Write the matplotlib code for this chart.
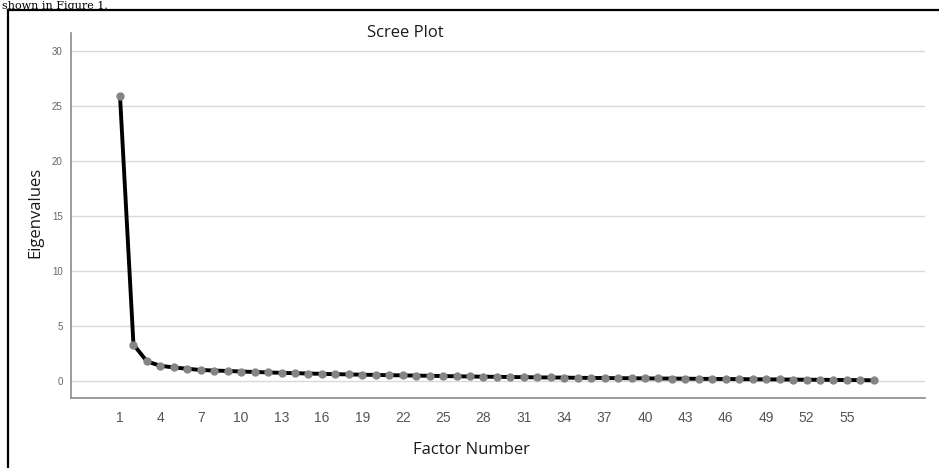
import matplotlib
matplotlib.use("Agg")
import matplotlib.pyplot as plt
from matplotlib.lines import Line2D

factors = list(range(1, 58))
eigenvalues = [25.9, 3.35, 1.82, 1.42, 1.27, 1.15, 1.04, 0.99, 0.95, 0.90,
               0.86, 0.82, 0.78, 0.75, 0.72, 0.69, 0.66, 0.64, 0.61, 0.59,
               0.57, 0.55, 0.53, 0.51, 0.49, 0.47, 0.45, 0.43, 0.42, 0.40,
               0.39, 0.37, 0.36, 0.35, 0.33, 0.32, 0.31, 0.30, 0.29, 0.28,
               0.27, 0.26, 0.25, 0.24, 0.23, 0.22, 0.21, 0.20, 0.19, 0.18,
               0.17, 0.16, 0.15, 0.14, 0.13, 0.12, 0.10]
xticks = list(range(1, 56, 3))
yticks = [0, 5, 10, 15, 20, 25, 30]

W, H = 939, 468
fig = plt.figure(figsize=(W / 100, H / 100), dpi=100)
fig.patch.set_facecolor("white")

def fx(px):
    return px / W

def fy(py):
    return 1 - py / H

ax = fig.add_axes([fx(71), fy(398), fx(925) - fx(71), fy(33) - fy(398)])
ax.set_xlim(-2.64, 60.8)
ax.set_ylim(-1.5, 31.6)

for y in yticks:
    ax.axhline(y, color="#d9d9d9", lw=1.0, zorder=0)

ax.plot(factors, eigenvalues, color="black", lw=2.8, zorder=2,
        marker="o", markersize=5, markerfacecolor="#858585",
        markeredgecolor="#858585")

ax.set_xticks(xticks)
ax.set_xticklabels([str(t) for t in xticks], family="Liberation Sans",
                   fontsize=10, color="#555555")
ax.set_yticks(yticks)
ax.set_yticklabels([str(t) for t in yticks], family="Liberation Sans",
                   fontsize=7, color="#666666")
ax.tick_params(axis="x", length=0, pad=9)
ax.tick_params(axis="y", length=0, pad=6)

for s in ["top", "right"]:
    ax.spines[s].set_visible(False)
for s in ["left", "bottom"]:
    ax.spines[s].set_color("#8c8c8c")
    ax.spines[s].set_linewidth(1.2)

fig.text(fx(405), fy(33), "Scree Plot", family="Open Sans", fontsize=12,
         ha="center", va="center", color="#1a1a1a")
fig.text(fx(35), fy(212), "Eigenvalues", family="Open Sans", fontsize=12,
         ha="center", va="center", rotation=90, color="#1a1a1a")
fig.text(fx(471), fy(450), "Factor Number", family="Open Sans", fontsize=12,
         ha="center", va="center", color="#1a1a1a")

# caption text from the source page, kept fully inside the picture
fig.text(fx(2), fy(9), "shown in Figure 1.", family="DejaVu Serif",
         fontsize=8, ha="left", va="baseline", color="black")

# outer frame
fig.add_artist(Line2D([fx(8), 1.0], [fy(10), fy(10)], color="black", lw=1.6,
                      transform=fig.transFigure))
fig.add_artist(Line2D([fx(8), fx(8)], [fy(10), 0.0], color="black", lw=1.6,
                      transform=fig.transFigure))

fig.savefig("out.png", dpi=100, facecolor="white")
